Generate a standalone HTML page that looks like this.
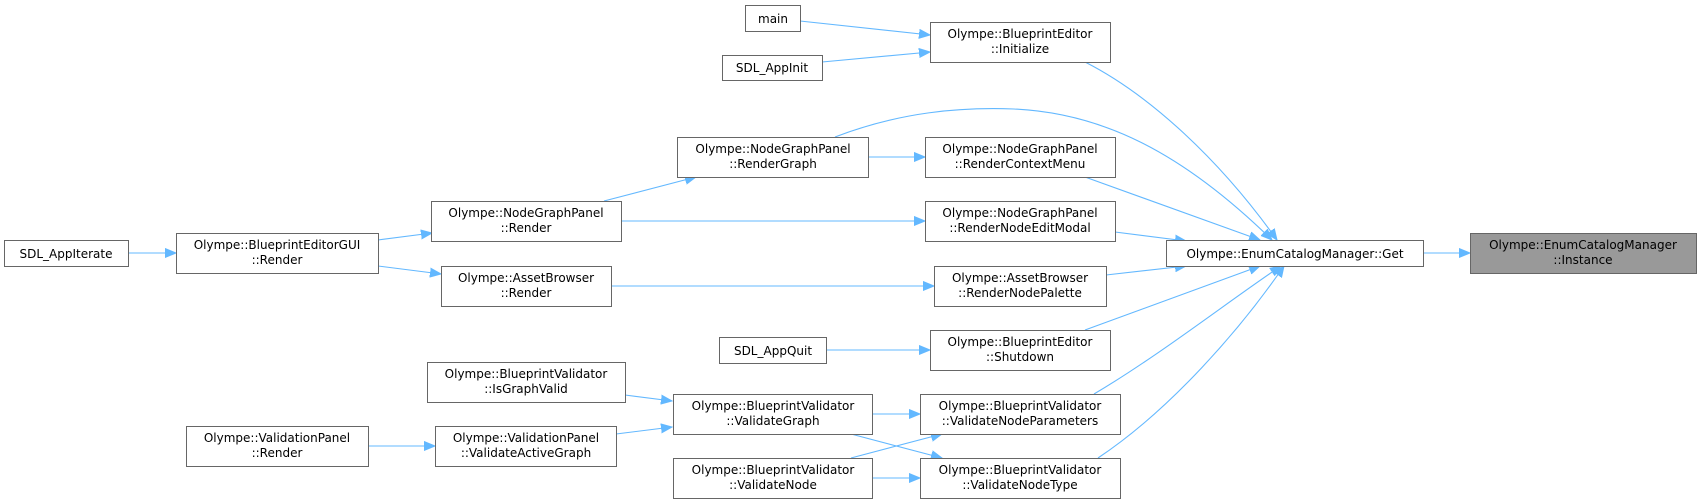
<!DOCTYPE html>
<html><head><meta charset="utf-8"><style>
html,body{margin:0;padding:0;background:#fff;}
svg{display:block;}
text{font-family:"DejaVu Sans","Liberation Sans",sans-serif;font-size:12px;fill:#000;}
.b{fill:#fff;stroke:#666;stroke-width:1;}
.e{fill:none;stroke:#63b8ff;stroke-width:1.1;}
</style></head><body>
<svg width="1701" height="502" viewBox="0 0 1701 502" xmlns="http://www.w3.org/2000/svg">
<defs>
<marker id="a" markerUnits="userSpaceOnUse" markerWidth="12" markerHeight="10" refX="11" refY="5" orient="auto">
<path d="M0,0.5 L11,5 L0,9.5 Z" fill="#63b8ff" stroke="#63b8ff"/>
</marker>
</defs>
<g class="edges">
<path class="e" marker-end="url(#a)" d="M800,21 L930,35"/>
<path class="e" marker-end="url(#a)" d="M822,62 L930,52"/>
<path class="e" marker-end="url(#a)" d="M1085,62 C1150,95 1220,160 1277,240"/>
<path class="e" marker-end="url(#a)" d="M835,137 C900,112 960,107 1014,109 C1100,113 1180,150 1272,240"/>
<path class="e" marker-end="url(#a)" d="M868,157 L925,157"/>
<path class="e" marker-end="url(#a)" d="M1085,177 L1260,240"/>
<path class="e" marker-end="url(#a)" d="M604,201 L696,177"/>
<path class="e" marker-end="url(#a)" d="M621,221 L925,221"/>
<path class="e" marker-end="url(#a)" d="M1115,232 L1186,241"/>
<path class="e" marker-end="url(#a)" d="M378,240 L432,233"/>
<path class="e" marker-end="url(#a)" d="M378,266 L441,274"/>
<path class="e" marker-end="url(#a)" d="M128,253 L176,253"/>
<path class="e" marker-end="url(#a)" d="M611,286 L934,286"/>
<path class="e" marker-end="url(#a)" d="M1106,275 L1186,266"/>
<path class="e" marker-end="url(#a)" d="M826,350 L930,350"/>
<path class="e" marker-end="url(#a)" d="M1085,330 L1260,266"/>
<path class="e" marker-end="url(#a)" d="M1094,394 C1160,355 1230,300 1281,266"/>
<path class="e" marker-end="url(#a)" d="M1098,458 C1170,410 1240,330 1284,266"/>
<path class="e" marker-end="url(#a)" d="M625,395 L672,401"/>
<path class="e" marker-end="url(#a)" d="M616,434 L672,427"/>
<path class="e" marker-end="url(#a)" d="M368,446 L435,446"/>
<path class="e" marker-end="url(#a)" d="M872,414 L920,414"/>
<path class="e" marker-end="url(#a)" d="M851,434 L942,458"/>
<path class="e" marker-end="url(#a)" d="M851,458 L942,434"/>
<path class="e" marker-end="url(#a)" d="M872,478 L920,478"/>
<path class="e" marker-end="url(#a)" d="M1423,253 L1470,253"/>
</g>
<g text-anchor="middle">
<rect class="b" x="745.5" y="5.5" width="55" height="26"/><text x="773" y="23">main</text>
<rect class="b" x="722.5" y="55.5" width="100" height="25"/><text x="772" y="72">SDL_AppInit</text>
<rect class="b" x="930.5" y="22.5" width="180" height="40"/><text x="1020" y="38">Olympe::BlueprintEditor</text><text x="1020" y="53">::Initialize</text>
<rect class="b" x="677.5" y="137.5" width="191" height="40"/><text x="773" y="153">Olympe::NodeGraphPanel</text><text x="773" y="168">::RenderGraph</text>
<rect class="b" x="925.5" y="137.5" width="190" height="40"/><text x="1020" y="153">Olympe::NodeGraphPanel</text><text x="1020" y="168">::RenderContextMenu</text>
<rect class="b" x="4.5" y="240.5" width="124" height="26"/><text x="66" y="258">SDL_AppIterate</text>
<rect class="b" x="176.5" y="233.5" width="202" height="40"/><text x="277" y="249">Olympe::BlueprintEditorGUI</text><text x="277" y="264">::Render</text>
<rect class="b" x="431.5" y="201.5" width="190" height="40"/><text x="526" y="217">Olympe::NodeGraphPanel</text><text x="526" y="232">::Render</text>
<rect class="b" x="925.5" y="201.5" width="190" height="40"/><text x="1020" y="217">Olympe::NodeGraphPanel</text><text x="1020" y="232">::RenderNodeEditModal</text>
<rect class="b" x="441.5" y="266.5" width="170" height="40"/><text x="526" y="282">Olympe::AssetBrowser</text><text x="526" y="297">::Render</text>
<rect class="b" x="934.5" y="266.5" width="172" height="40"/><text x="1020" y="282">Olympe::AssetBrowser</text><text x="1020" y="297">::RenderNodePalette</text>
<rect class="b" x="1166.5" y="240.5" width="257" height="26"/><text x="1295" y="258">Olympe::EnumCatalogManager::Get</text>
<rect x="1470.5" y="233.5" width="226" height="40" fill="#999" stroke="#666"/><text x="1583" y="249">Olympe::EnumCatalogManager</text><text x="1583" y="264">::Instance</text>
<rect class="b" x="719.5" y="337.5" width="107" height="26"/><text x="773" y="355">SDL_AppQuit</text>
<rect class="b" x="930.5" y="330.5" width="180" height="40"/><text x="1020" y="346">Olympe::BlueprintEditor</text><text x="1020" y="361">::Shutdown</text>
<rect class="b" x="427.5" y="362.5" width="198" height="40"/><text x="526" y="378">Olympe::BlueprintValidator</text><text x="526" y="393">::IsGraphValid</text>
<rect class="b" x="673.5" y="394.5" width="199" height="40"/><text x="773" y="410">Olympe::BlueprintValidator</text><text x="773" y="425">::ValidateGraph</text>
<rect class="b" x="920.5" y="394.5" width="200" height="40"/><text x="1020" y="410">Olympe::BlueprintValidator</text><text x="1020" y="425">::ValidateNodeParameters</text>
<rect class="b" x="186.5" y="426.5" width="182" height="40"/><text x="277" y="442">Olympe::ValidationPanel</text><text x="277" y="457">::Render</text>
<rect class="b" x="435.5" y="426.5" width="181" height="40"/><text x="526" y="442">Olympe::ValidationPanel</text><text x="526" y="457">::ValidateActiveGraph</text>
<rect class="b" x="673.5" y="458.5" width="199" height="40"/><text x="773" y="474">Olympe::BlueprintValidator</text><text x="773" y="489">::ValidateNode</text>
<rect class="b" x="920.5" y="458.5" width="200" height="40"/><text x="1020" y="474">Olympe::BlueprintValidator</text><text x="1020" y="489">::ValidateNodeType</text>
</g>
</svg>
</body></html>
